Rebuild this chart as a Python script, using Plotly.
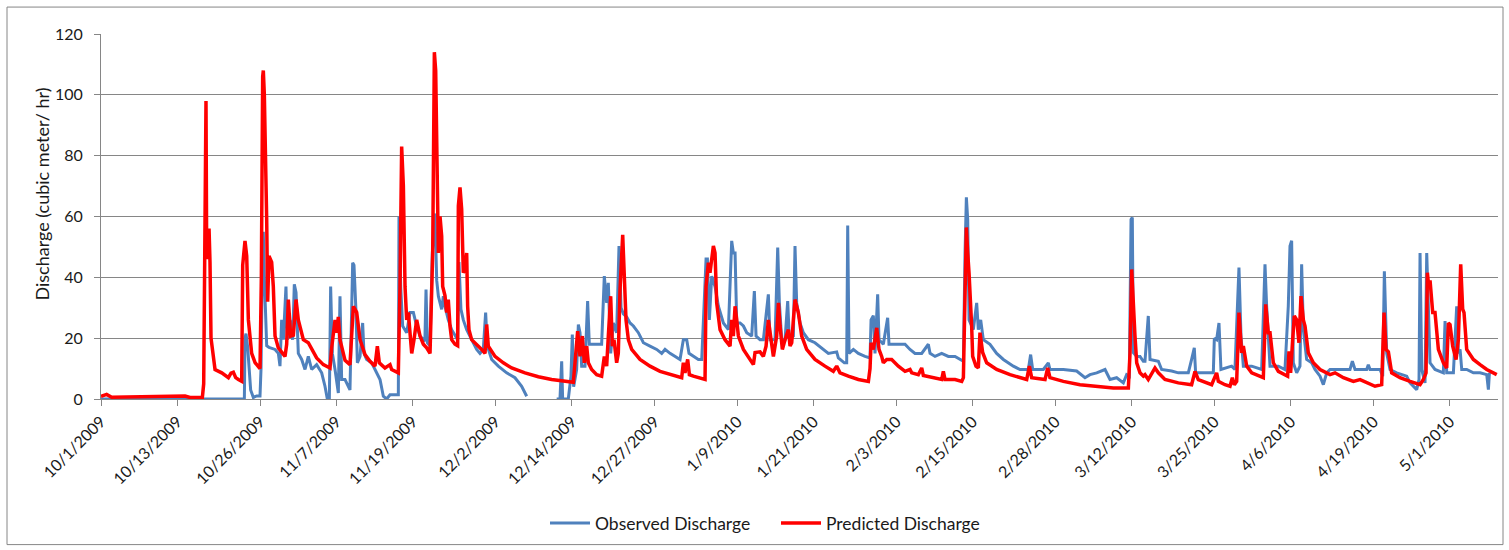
import pandas as pd
import plotly.graph_objects as go

start = pd.Timestamp("2009-10-01")

# Observed discharge: day offset from 10/1/2009, value (cubic meter / hr)
obs_day = [0, 22.53, 22.63, 22.79, 23.05, 23.26, 23.52, 23.94, 24.47, 24.99, 25.15, 25.36, 25.51, 25.67, 25.88,
           26.04, 26.40, 26.82, 27.35, 27.87, 28.13, 28.39, 28.66, 29.07, 29.28, 29.70, 30.12, 30.38, 30.65,
           31.01, 31.54, 32.06, 32.58, 33.11, 33.89, 34.68, 35.20, 35.57, 35.89, 36.09, 36.36, 36.78, 37.30,
           37.56, 37.82, 38.35, 39.13, 39.55, 39.76, 40.08, 40.29, 40.71, 41.12, 41.33, 41.75, 42.54, 43.32,
           43.85, 44.37, 44.90, 45.42, 46.73, 46.83, 47.10, 47.41, 48.04, 48.56, 49.09, 49.61, 50.14, 50.90,
           51.08, 51.29, 51.71, 52.07, 52.49, 52.76, 53.02, 53.54, 53.80, 54.06, 54.58, 55.11, 55.63, 56.05,
           56.26, 56.57, 56.94, 57.47, 58.25, 59.04, 59.56, 60.08, 60.45, 60.71, 61.40, 62.44, 63.75, 65.06,
           66.11, 66.90, 69.0, 71.61, 72.13, 72.40, 72.55, 73.44, 73.86, 74.07, 74.28, 74.75, 75.02, 75.28,
           75.54, 76.06, 76.48, 76.74, 77.64, 78.68, 79.10, 79.47, 79.73, 80.10, 80.52, 81.04, 81.41, 81.73,
           82.09, 82.62, 83.14, 83.67, 84.45, 85.24, 86.28, 87.33, 88.12, 88.64, 89.43, 90.21, 91.00, 91.52,
           92.05, 92.41, 93.10, 93.88, 94.41, 94.77, 95.09, 95.30, 95.61, 95.98, 96.50, 97.03, 97.81, 98.60,
           99.12, 99.38, 99.65, 99.91, 100.43, 100.96, 101.48, 102.26, 102.68, 102.95, 103.57, 104.10, 104.88,
           105.15, 105.93, 106.35, 106.61, 106.98, 107.50, 107.92, 108.18, 108.81, 109.07, 109.33, 109.86,
           110.38, 111.17, 112.21, 113.26, 114.31, 115.62, 115.88, 116.82, 117.19, 117.35, 117.56, 118.24,
           119.02, 120.07, 120.86, 121.02, 121.38, 121.64, 122.06, 122.27, 122.95, 123.63, 123.84, 124.79,
           126.36, 127.14, 127.93, 128.98, 130.02, 130.29, 131.07, 132.12, 133.17, 134.22, 135.00, 135.53,
           135.79, 136.00, 136.21, 136.42, 136.83, 137.09, 137.62, 137.88, 138.25, 138.66, 139.71, 140.76,
           141.81, 143.38, 144.43, 145.74, 146.10, 146.42, 148.10, 148.88, 149.14, 151.24, 153.33, 154.64,
           155.43, 156.48, 157.79, 158.57, 159.62, 160.67, 161.19, 161.61, 161.88, 162.08, 162.24, 162.77,
           163.29, 163.81, 164.07, 164.59, 164.86, 166.17, 166.69, 168.26, 169.31, 170.88, 171.40, 171.82,
           172.03, 173.50, 174.81, 174.97, 175.33, 175.70, 176.01, 177.69, 178.21, 178.84, 179.16, 179.53,
           180.84, 182.41, 182.93, 183.19, 183.72, 185.03, 186.07, 186.59, 186.86, 187.12, 187.38, 187.91,
           188.43, 188.69, 188.96, 189.48, 190.27, 190.79, 191.58, 192.10, 192.63, 193.15, 194.72, 196.29,
           196.66, 197.08, 198.91, 199.17, 199.44, 201.01, 201.43, 201.69, 202.06, 202.58, 203.63, 205.20,
           205.73, 206.77, 207.14, 207.30, 207.56, 208.08, 208.35, 208.61, 208.87, 209.65, 210.96, 211.23,
           211.49, 212.54, 213.06, 213.32, 213.59, 213.85, 214.63, 215.68, 216.73, 217.78, 218.04, 218.20]
obs_val = [0, 0, 20, 21.5, 17, 10, 3, 0.5, 1, 1, 10, 45, 55, 40, 22,
           17.5, 17, 16.8, 16.3, 15, 10.8, 26, 19.5, 37, 19.5, 26, 19.5, 37.7, 35,
           15, 13, 9.7, 14, 9.7, 11.3, 8.6, 4.2, 0, 0, 37, 15, 9.7, 2,
           33.8, 6.4, 6.4, 3, 44.8, 44, 28.4, 11.9, 14, 25, 15, 13, 11.9, 8.6,
           6.4, 0.9, 0, 1.4, 1.4, 60, 37, 24, 21.8, 28.4, 28.4, 24, 20.7, 19,
           36, 18.5, 17.4, 48, 61, 39, 33.8, 29.5, 33.8, 30.5, 26, 22.8, 20.7, 19.5,
           45, 29.5, 26, 22.8, 19.5, 16.3, 15, 16.3, 28.4, 17.4, 13, 10.8, 8.6, 7,
           4.2, 0.9, None, 0, 0, 12.4, 0, 0, 7.5, 21.2, 4, 9.7, 24.5, 21.8,
           10.8, 10.8, 32.2, 18, 18, 18, 40.4, 31.6, 38.2, 15, 25, 21.8, 50.3, 30,
           28, 27, 25, 24, 21.8, 18.5, 17.4, 16.3, 15, 16.3, 15, 14, 13, 19.5,
           19.5, 15, 14, 13, 13, 30.5, 46, 46, 26, 40.4, 37, 30.5, 25, 22.8,
           52, 48, 48, 25, 25, 24, 21.8, 20.7, 35.5, 20.7, 19.5, 19.5, 34.4,
           19.5, 19.5, 49.8, 31.6, 19.5, 19.5, 32.2, 19.5, 20.7, 50.3, 31.6, 25,
           21.8, 19.5, 18.5, 16.8, 15, 15.5, 13.5, 11.9, 11.9, 57, 15, 16.3,
           15, 14, 13.5, 26, 27.4, 15, 34.4, 19.5, 18, 26.7, 18, 18,
           18, 16.3, 15, 15, 18, 15, 14, 15, 14, 14, 13, 12.4,
           48, 66.3, 59, 26, 24, 22.8, 31.6, 22.8, 26, 19.5, 18, 15,
           13, 10.8, 9.7, 9.7, 14.6, 9.7, 9.7, 11.9, 9.7, 9.7, 9.2, 7,
           8, 8.6, 9.7, 6.4, 7, 5.3, 8, 7.5, 59, 59.7, 15.2, 14,
           14, 12.4, 12.4, 27.3, 13, 12.4, 9.7, 9.2, 8.6, 8.6, 13, 16.8,
           8.6, 8.6, 8.6, 20, 19.5, 25, 9.7, 10.8, 9.7, 43.2, 20.7, 10.8,
           10.8, 9.7, 44.3, 30.5, 10.8, 10.8, 9.7, 30.5, 50.3, 52, 11.9, 8.6,
           10.8, 44.3, 22.8, 13, 11.9, 9.7, 7.5, 4.7, 8.6, 9.7, 9.7, 9.7,
           12.4, 9.7, 9.7, 11.3, 9.7, 9.7, 7.5, 42, 15, 9.7, 8.6, 7.5,
           5.3, 3.1, 6.4, 48, 9.7, 5.3, 48, 31.6, 11.9, 9.7, 8.6, 25.6,
           8.6, 8.6, 30.5, 15, 16.3, 9.7, 9.7, 8.6, 8.6, 8, 3.1, 8.6]

# Predicted discharge
pred_day = [0, 0.4, 0.89, 1.68, 13.21, 13.99, 15.93, 16.14, 16.35, 16.50, 16.61, 16.80, 16.98, 17.13, 17.29,
            17.92, 18.97, 20.02, 20.43, 20.80, 21.17, 21.59, 22.11, 22.27, 22.48, 22.63, 22.90, 23.16, 23.68,
            24.21, 24.99, 25.20, 25.41, 25.51, 25.67, 25.88, 26.04, 26.19, 26.40, 26.82, 27.08, 27.35, 27.87,
            28.92, 29.18, 29.44, 29.81, 30.23, 30.65, 31.01, 31.80, 32.58, 32.85, 33.89, 34.94, 35.99, 36.25,
            36.78, 37.04, 37.30, 37.56, 38.35, 39.13, 39.40, 39.66, 40.18, 40.71, 41.49, 42.28, 43.06, 43.43,
            43.74, 44.63, 45.42, 45.68, 46.73, 46.99, 47.25, 47.52, 47.78, 48.04, 48.30, 48.56, 48.83, 49.19,
            49.61, 50.14, 50.66, 51.18, 51.71, 52.13, 52.39, 52.60, 52.76, 53.02, 53.28, 53.54, 53.70, 54.06,
            54.32, 54.58, 54.85, 55.11, 55.63, 56.05, 56.16, 56.42, 56.68, 56.94, 57.20, 57.47, 57.62, 57.83,
            58.25, 59.04, 59.82, 60.35, 60.61, 60.87, 61.92, 63.23, 64.54, 66.63, 68.73, 70.82, 72.92, 74.23,
            74.49, 74.91, 75.28, 75.64, 75.96, 76.33, 76.59, 77.11, 77.90, 78.68, 79.10, 79.47, 79.73, 80.10,
            80.36, 80.62, 81.04, 81.30, 81.57, 81.99, 82.20, 82.51, 82.88, 83.40, 84.71, 86.28, 87.86, 89.43,
            91.26, 91.52, 91.78, 92.20, 92.47, 93.10, 94.14, 94.93, 95.09, 95.45, 95.71, 96.24, 96.50, 96.76,
            97.29, 98.07, 98.86, 99.12, 99.38, 99.65, 99.91, 100.17, 100.96, 101.74, 102.53, 102.79, 103.57,
            104.10, 104.52, 104.88, 105.25, 105.67, 106.19, 106.46, 106.72, 107.08, 107.50, 108.03, 108.29,
            108.55, 108.81, 109.07, 109.59, 110.12, 110.90, 112.21, 113.78, 115.09, 115.62, 116.14, 117.45,
            119.02, 120.60, 120.86, 121.02, 121.38, 121.91, 122.27, 122.69, 122.95, 123.48, 124.26, 125.31,
            126.36, 127.14, 127.41, 128.45, 128.98, 129.24, 130.55, 132.12, 132.38, 132.65, 134.22, 135.27,
            135.53, 135.79, 136.00, 136.21, 136.42, 136.83, 136.99, 137.51, 137.88, 138.14, 138.56, 139.19,
            140.76, 142.86, 145.48, 145.90, 146.26, 148.36, 148.78, 149.14, 151.24, 153.86, 156.48, 159.10,
            161.46, 161.72, 161.98, 162.24, 162.50, 162.77, 163.29, 163.81, 164.07, 164.59, 165.64, 166.17,
            167.21, 169.31, 171.40, 171.93, 172.45, 174.55, 175.33, 175.60, 176.64, 177.43, 177.80, 178.11,
            178.48, 178.84, 179.26, 179.53, 180.05, 180.84, 182.15, 182.67, 183.04, 183.45, 183.72, 184.24,
            185.03, 186.07, 186.49, 186.70, 186.96, 187.28, 187.54, 187.91, 188.27, 188.59, 188.96, 189.22,
            189.74, 190.53, 191.31, 191.58, 193.15, 193.94, 195.25, 196.82, 197.87, 198.91, 200.22, 201.27,
            201.64, 201.95, 202.32, 202.84, 204.15, 205.73, 207.30, 207.82, 208.24, 208.45, 208.66, 208.87,
            209.29, 209.65, 210.18, 210.96, 211.49, 211.75, 212.01, 212.43, 212.96, 213.32, 213.69, 214.00,
            214.21, 214.63, 215.68, 216.73, 217.78, 219.35]
pred_val = [0.9, 1.2, 1.5, 0.6, 1.0, 0.5, 0.5, 5, 70, 98, 46, 50, 56, 45, 20,
            9.7, 8.6, 7, 8.5, 8.8, 7, 6.4, 5.8, 44, 50, 52, 47, 26, 15,
            12, 10, 40, 106, 108, 100, 80, 59, 32, 47, 45, 37, 20.7, 16.8,
            14, 18, 32.7, 20.7, 21, 32.7, 26, 19.5, 18.5, 17.4, 13.5, 11.3, 10.2, 16.8,
            26, 21.8, 27, 19.5, 12.7, 11.3, 20, 30.5, 28.5, 19.5, 14.6, 12.4, 10.8, 17.4,
            11.9, 10.2, 11.3, 9.7, 8.6, 37, 83, 70, 37, 26, 28.5, 20.7, 15, 19.5,
            26, 20.7, 18, 16.8, 15, 48, 114, 108, 81, 48, 60, 53.6, 37, 34,
            28.4, 32.7, 24, 19.5, 18, 17.5, 63.5, 69.6, 62.4, 41.5, 42.6, 48, 30.5, 22.8,
            19.5, 18, 16.3, 15, 24.5, 17.4, 14, 11.9, 10.2, 8.6, 7.3, 6.4, 5.8, 5.5,
            11.9, 22.3, 14, 20.7, 11.9, 17.4, 11.9, 9.7, 8, 7.5, 14, 10.8, 20.7, 33.8,
            17.4, 19.5, 11.9, 15, 36, 54, 42.6, 26, 19.5, 16.3, 13, 10.8, 9.1, 8,
            7, 11.9, 8.6, 13, 8, 7.5, 7, 6.4, 37, 44.8, 41.5, 50.3, 48, 31.6,
            22.8, 19.5, 17.4, 26, 20.7, 30.5, 26, 20.7, 16.3, 14, 11.3, 15.3, 15.5,
            14, 17.4, 26, 19.5, 14, 20.7, 31.6, 24, 16.3, 19.5, 22.8, 17.4,
            18.5, 26, 32.7, 28.4, 20.7, 16.3, 13, 10.8, 9.1, 10.8, 8.6, 7.5,
            6.4, 5.8, 10, 18.5, 16.3, 23.4, 16.3, 14, 11.9, 13, 13, 10.8,
            9.1, 9.7, 8.6, 8, 10.2, 7.7, 7, 6.4, 9.1, 6.4, 6.4, 5.8,
            7, 31.6, 56.4, 48, 41.5, 24, 14, 10.8, 10.2, 21.8, 15.3, 11.9,
            9.7, 8, 6.4, 10.8, 7, 6.4, 10.2, 7, 5.8, 4.7, 4.2, 3.6,
            3.6, 15.2, 42.6, 28.4, 20.7, 11.9, 8.6, 7.5, 8, 6.4, 10.2, 8.6,
            6.4, 5.3, 4.7, 9.1, 6.4, 4.7, 8.6, 5.8, 4.7, 4.2, 7, 4.7,
            5.8, 28.4, 15.2, 17.4, 10.8, 8.6, 7.5, 7, 31.1, 21.8, 21.8, 11.9,
            9.1, 8, 7.5, 15.7, 8.6, 19.5, 27.3, 26, 18.5, 33.8, 26, 24,
            15.2, 11.9, 10.2, 9.7, 8, 8.6, 7, 5.8, 6.4, 5.3, 4.2, 4.7,
            28.4, 16.3, 15.5, 8.6, 7, 5.8, 4.7, 6.4, 8.6, 41.5, 37, 39,
            28.4, 28.4, 16.3, 11.9, 10.2, 25, 24.5, 17.4, 13, 19.5, 44.3, 29.5,
            28.4, 16.3, 13, 11.3, 9.7, 8]

tick_dates = ["2009-10-01", "2009-10-13", "2009-10-26", "2009-11-07", "2009-11-19", "2009-12-02",
              "2009-12-14", "2009-12-27", "2010-01-09", "2010-01-21", "2010-02-03", "2010-02-15",
              "2010-02-28", "2010-03-12", "2010-03-25", "2010-04-06", "2010-04-19", "2010-05-01"]
tick_labels = ["10/1/2009", "10/13/2009", "10/26/2009", "11/7/2009", "11/19/2009", "12/2/2009",
               "12/14/2009", "12/27/2009", "1/9/2010", "1/21/2010", "2/3/2010", "2/15/2010",
               "2/28/2010", "3/12/2010", "3/25/2010", "4/6/2010", "4/19/2010", "5/1/2010"]
y_ticks = [0, 20, 40, 60, 80, 100, 120]

obs_x = [start + pd.Timedelta(days=d) for d in obs_day]
pred_x = [start + pd.Timedelta(days=d) for d in pred_day]

FONT = "Lato, Carlito, 'Open Sans', sans-serif"
GRID = "#868686"

fig = go.Figure()
fig.add_trace(go.Scatter(x=obs_x, y=obs_val, mode="lines", name="Observed Discharge",
                         line=dict(color="#4F81BD", width=3), connectgaps=False, legend="legend"))
fig.add_trace(go.Scatter(x=pred_x, y=pred_val, mode="lines", name="Predicted Discharge",
                         line=dict(color="#FF0000", width=3.5), legend="legend2"))

W, H = 1509, 550
L, R, T, B = 101, 11, 34, 150
pw, ph = W - L - R, H - T - B

def px_x(x):
    return (x - L) / pw

def px_y(y):
    return (H - B - y) / ph

leg_common = dict(orientation="h", xanchor="left", yanchor="middle", y=px_y(523),
                  font=dict(size=17.5, color="#1a1a1a"), bgcolor="rgba(0,0,0,0)",
                  itemwidth=40)

fig.update_layout(
    width=W, height=H,
    margin=dict(l=L, r=R, t=T, b=B),
    paper_bgcolor="white", plot_bgcolor="white",
    font=dict(family=FONT, size=16, color="#1a1a1a"),
    showlegend=True,
    legend=dict(x=px_x(545), **leg_common),
    legend2=dict(x=px_x(776), **leg_common),
    xaxis=dict(type="date",
               range=[start, start + pd.Timedelta(days=219.55)],
               tickmode="array", tickvals=tick_dates, ticktext=tick_labels,
               tickangle=-45, showgrid=False, zeroline=False,
               showline=True, linecolor=GRID, linewidth=1,
               ticks="outside", ticklen=6, tickcolor=GRID,
               tickfont=dict(size=16)),
    yaxis=dict(range=[0, 120], tickmode="array", tickvals=y_ticks,
               showgrid=True, gridcolor=GRID, gridwidth=1, zeroline=False,
               showline=True, linecolor=GRID, linewidth=1,
               ticks="outside", ticklen=6, tickcolor=GRID,
               ticklabelstandoff=8, tickfont=dict(size=16)),
    annotations=[dict(text="Discharge (cubic meter/ hr)", xref="paper", yref="paper",
                      x=px_x(42), y=px_y(195), textangle=-90, showarrow=False,
                      font=dict(size=18), xanchor="center", yanchor="middle")],
    shapes=[dict(type="rect", xref="paper", yref="paper",
                 x0=px_x(7), x1=px_x(1503), y0=px_y(546), y1=px_y(7),
                 line=dict(color=GRID, width=1), fillcolor="rgba(0,0,0,0)", layer="below")],
)

fig.write_html("out.html")
